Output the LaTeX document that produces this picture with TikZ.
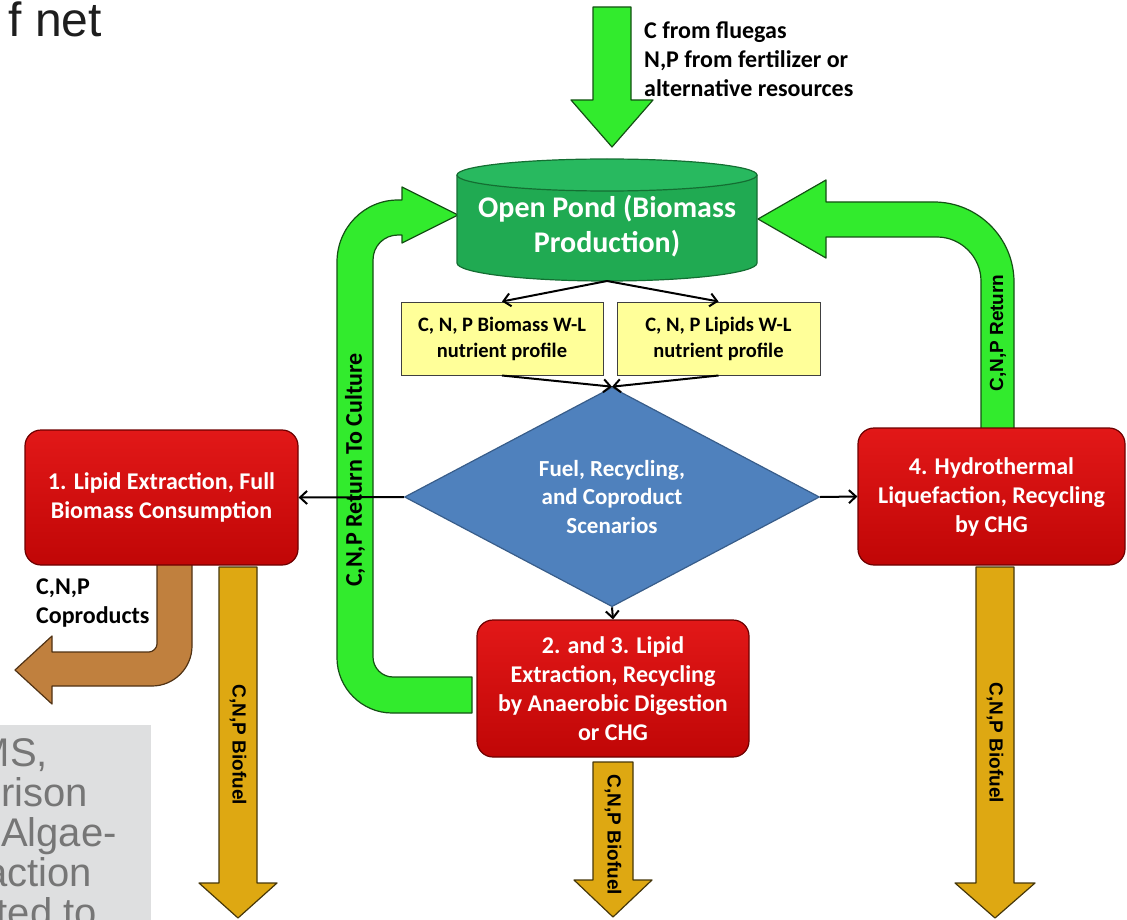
\documentclass[tikz,border=0pt]{standalone}
\usepackage{fontspec}
\setmainfont{Carlito}
\newfontfamily\arialf{Liberation Sans}
\usetikzlibrary{shapes.geometric,arrows.meta}
\definecolor{pondgreen}{RGB}{32,170,82}
\definecolor{pondtop}{RGB}{40,185,95}
\definecolor{pondedge}{RGB}{20,110,50}
\definecolor{brightgreen}{RGB}{50,235,45}
\definecolor{greenedge}{RGB}{20,80,20}
\definecolor{goldfill}{RGB}{222,168,18}
\definecolor{goldedge}{RGB}{70,55,10}
\definecolor{brownfill}{RGB}{192,128,62}
\definecolor{brownedge}{RGB}{80,50,20}
\definecolor{redtop}{RGB}{226,24,24}
\definecolor{redbot}{RGB}{192,6,6}
\definecolor{rededge}{RGB}{110,0,0}
\definecolor{yelfill}{RGB}{255,255,153}
\definecolor{diafill}{RGB}{79,129,189}
\definecolor{diaedge}{RGB}{56,93,138}
\definecolor{grayboxfill}{RGB}{222,223,224}
\definecolor{graytext}{RGB}{118,118,118}
\definecolor{slideblack}{RGB}{30,30,30}
\begin{document}
\begin{tikzpicture}[x=1pt,y=-1pt,
  redbox/.style={rectangle, rounded corners=16pt, top color=redtop, bottom color=redbot, draw=rededge, line width=1.2pt,
    text=white, align=center, inner sep=0pt, font=\bfseries\fontsize{24}{29}\selectfont},
  yelbox/.style={rectangle, fill=yelfill, draw=black!75, line width=1pt, align=center,
    inner sep=0pt, minimum height=73pt, font=\bfseries\fontsize{20.5}{26}\selectfont},
  conn/.style={line width=2pt, -{Straight Barb[length=7pt,width=13pt]}},
  fatgreen/.style={fill=brightgreen, draw=greenedge, line width=1.2pt, line join=round},
  fatgold/.style={fill=goldfill, draw=goldedge, line width=1.2pt, line join=round},
  fatbrown/.style={fill=brownfill, draw=brownedge, line width=1.2pt, line join=round},
  lbl/.style={font=\bfseries\fontsize{24}{29}\selectfont, inner sep=0pt},
  arrlbl/.style={font=\arialf\bfseries\fontsize{19}{22}\selectfont, inner sep=0pt},
  slidetext/.style={font=\arialf\fontsize{48}{48}\selectfont, inner sep=0pt},
  graylines/.style={font=\arialf\fontsize{40}{40}\selectfont, inner sep=0pt, text=graytext, anchor=base east}
]
\useasboundingbox (0,0) rectangle (1127,920);
\clip (0,0) rectangle (1127,920);

% slide fragments
\node[slidetext, text=slideblack, anchor=base east] (fnet) at (102,37) {f net};
\fill[grayboxfill] (0,725) rectangle (151,920);
\node[graylines] (g1) at (48,766) {MS,};
\node[graylines] (g2) at (88,806) {rison};
\node[graylines] (g3) at (117,846) {Algae-};
\node[graylines] (g4) at (92,886) {action};
\node[graylines] (g5) at (97,926) {ted to};

% top input arrow
\draw[fatgreen] (593,7) -- (631,7) -- (631,100) -- (653,100) -- (612,147) -- (571,100) -- (593,100) -- cycle;
\node[lbl, anchor=west, align=left] (src) at (644,59) {C from fluegas\\N,P from fertilizer or\\alternative resources};

% right return arrow
\draw[fatgreen] (1014,430) -- (1014,282) .. controls (1014,238) and (978,202) .. (934,202) -- (826,202) -- (826,180) -- (758,219) -- (826,258) -- (826,237) -- (937,237) .. controls (961,237) and (981,257) .. (981,281) -- (981,430) -- cycle;
\node[arrlbl, rotate=90] (retR) at (998,333) {C,N,P Return};

% left return arrow
\draw[fatgreen] (472,713) -- (392,713) .. controls (362,713) and (337,688) .. (337,658) -- (337,262) .. controls (337,228) and (364,200) .. (398,200) -- (402,200) -- (402,187) -- (458,215) -- (402,243) -- (402,235) -- (398,235) .. controls (384,235) and (373,246) .. (373,260) -- (373,657) .. controls (373,668) and (382,677) .. (393,677) -- (472,677) -- cycle;
\node[lbl, rotate=90] (retL) at (355,470) {C,N,P Return To Culture};

% coproduct arrow
\draw[fatbrown] (157,563) -- (192,563) -- (192,646) .. controls (192,668) and (174,686) .. (152,686) -- (52,686) -- (52,704) -- (15,670) -- (52,636) -- (52,652) -- (149,652) .. controls (153,652) and (157,648) .. (157,644) -- cycle;
\node[lbl, anchor=west, align=left] (copr) at (36,603) {C,N,P\\Coproducts};

% biofuel arrows
\draw[fatgold] (219,567) -- (257,567) -- (257,883) -- (277,883) -- (238,918) -- (199,883) -- (219,883) -- cycle;
\node[arrlbl, rotate=-90] (bfA) at (238,745) {C,N,P Biofuel};
\draw[fatgold] (593,762) -- (633,762) -- (633,880) -- (652,880) -- (613,917) -- (574,880) -- (593,880) -- cycle;
\node[arrlbl, rotate=-90] (bfB) at (613,835) {C,N,P Biofuel};
\draw[fatgold] (976,567) -- (1014,567) -- (1014,883) -- (1035,883) -- (995,918) -- (955,883) -- (976,883) -- cycle;
\node[arrlbl, rotate=-90] (bfC) at (995,743) {C,N,P Biofuel};

% open pond cylinder
\fill[pondgreen] (457,175) -- (457,263) arc[start angle=180,end angle=360,x radius=150pt,y radius=18pt] -- (757,175) -- cycle;
\draw[pondedge, line width=1.2pt] (457,175) -- (457,263) arc[start angle=180,end angle=360,x radius=150pt,y radius=18pt] -- (757,175);
\draw[fill=pondtop, draw=pondedge, line width=1.2pt] (607,175) ellipse[x radius=150pt, y radius=16pt];
\node[text=white, align=center, inner sep=0pt, font=\bfseries\fontsize{30}{35}\selectfont] (pond) at (607,226) {Open Pond (Biomass\\Production)};
\coordinate (pondB) at (607,281);

% nutrient profile boxes
\node[yelbox, minimum width=202pt] (bio) at (502,338.5) {C, N, P Biomass W-L\\nutrient profile};
\node[yelbox, minimum width=203pt] (lip) at (718.5,338.5) {C, N, P Lipids W-L\\nutrient profile};

% scenario diamond
\node[diamond, fill=diafill, draw=diaedge, line width=1.2pt, minimum width=415pt, minimum height=205pt,
  inner sep=0pt, text=white, align=center, font=\bfseries\fontsize{23}{28.5}\selectfont] (scen) at (612,497)
  {Fuel, Recycling,\\and Coproduct\\Scenarios};

% scenario boxes
\node[redbox, minimum width=273pt, minimum height=135pt] (box1) at (161.5,497.5) {1. Lipid Extraction, Full\\Biomass Consumption};
\node[redbox, minimum width=272pt, minimum height=137pt] (box23) at (613,688.5) {2. and 3. Lipid\\Extraction, Recycling\\by Anaerobic Digestion\\or CHG};
\node[redbox, minimum width=267pt, minimum height=137pt] (box4) at (991.5,496.5) {4. Hydrothermal\\Liquefaction, Recycling\\by CHG};

% connectors
\draw[conn] (pondB) -- (bio.north);
\draw[conn] (pondB) -- (lip.north);
\draw[conn] (bio.south) -- (scen.north);
\draw[conn] (lip.south) -- (scen.north);
\draw[conn] (scen.west) -- (box1.east);
\draw[conn] (scen.east) -- (box4.west);
\draw[conn] (scen.south) -- (box23.north);
\end{tikzpicture}
\end{document}
